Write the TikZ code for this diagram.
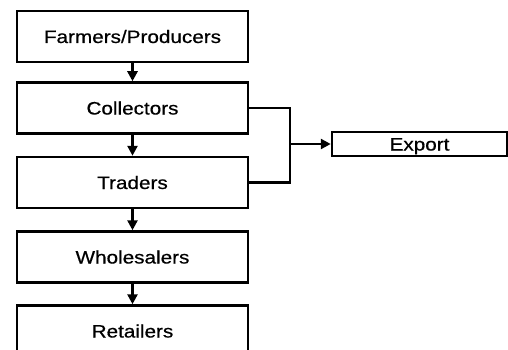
\documentclass[tikz,border=0pt]{standalone}
\usepackage{fontspec}
\setmainfont{Liberation Sans}[FakeStretch=1.15, FakeBold=0.6]
\usetikzlibrary{arrows.meta, positioning}

\begin{document}
\begin{tikzpicture}[x=1pt, y=1pt, line width=2.5pt,
    >={Triangle[length=10pt, width=10pt]},
    stage/.style={draw, rectangle, minimum width=231pt, minimum height=51pt,
                  inner sep=0pt, font=\fontsize{18}{20}\selectfont,
                  text height=13pt, text depth=0pt},
    outlet/.style={stage, minimum width=175pt, minimum height=24pt}]

    \useasboundingbox (0,0) rectangle (508,-350);
    \clip (0,0) rectangle (508,-350);

    \node [stage] (farmers) at (132.5 , -36.5) {Farmers/Producers};
    \node [stage] (collectors) at (132.5 , -108) {Collectors};
    \node [stage] (traders) at (132.5 , -182.5) {Traders};
    \node [stage] (wholesalers) at (132.5 , -257) {Wholesalers};
    \node [stage] (retailers) at (132.5 , -331) {Retailers};
    \node [outlet] (export) at (419.5 , -144) {Export};
    \coordinate (jn) at (290 , -144);

 \path[->]
      (farmers) edge (collectors)
      (collectors) edge (traders)
      (traders) edge (wholesalers)
      (wholesalers) edge (retailers);
 \draw (collectors.east) -| (jn) |- (traders.east);
 \draw[->] (jn) -- (export);
\end{tikzpicture}
\end{document}
